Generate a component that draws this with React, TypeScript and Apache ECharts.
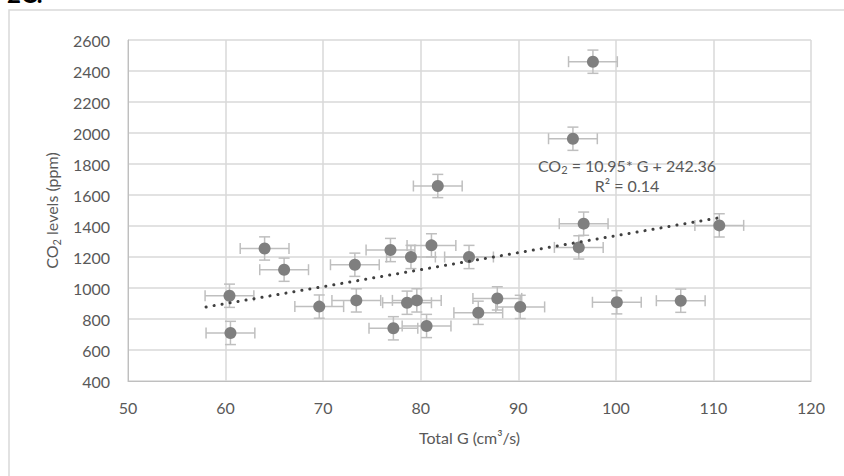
import React, { useEffect, useRef } from "react";
import * as echarts from "echarts";

// Data
const G_VALUES = [60.4, 60.5, 64.0, 66.0, 69.6, 73.25, 73.4, 76.9, 77.2, 78.6, 79.0, 79.6, 80.6, 81.1, 81.75, 84.95, 85.9, 87.85, 90.2, 95.6, 96.2, 96.7, 97.65, 100.1, 106.65, 110.6];
const CO2_VALUES = [950, 710, 1255, 1118, 880, 1150, 920, 1245, 740, 905, 1200, 920, 755, 1275, 1658, 1200, 840, 933, 878, 1963, 1262, 1415, 2460, 908, 918, 1404];
const G_ERROR = 2.5;
const CO2_ERROR = 75;
const TREND_SLOPE = 10.95;
const TREND_INTERCEPT = 242.36;
const TREND_X = [58.0, 110.6];
const X_TICKS = { min: 50, max: 120, interval: 10 };
const Y_TICKS = { min: 400, max: 2600, interval: 200 };

const FONT = "Lato";
const TEXT_COLOR = "#595959";

export default function App() {
  const ref = useRef<HTMLDivElement>(null);

  useEffect(() => {
    document.body.style.margin = "0";
    if (!ref.current) return;
    const chart = echarts.init(ref.current, undefined, { renderer: "svg" });

    const points = G_VALUES.map((g, i) => [g, CO2_VALUES[i]]);
    const errData = G_VALUES.map((g, i) => [g, CO2_VALUES[i], G_ERROR, CO2_ERROR]);
    const trend = TREND_X.map((x) => [x, TREND_SLOPE * x + TREND_INTERCEPT]);

    const option: any = {
      animation: false,
      textStyle: { fontFamily: FONT },
      grid: { left: 128, right: 33, top: 40, bottom: 95 },
      xAxis: {
        type: "value",
        min: X_TICKS.min,
        max: X_TICKS.max,
        interval: X_TICKS.interval,
        name: "Total G (cm³/s)",
        nameLocation: "middle",
        nameGap: 48,
        nameTextStyle: { fontFamily: FONT, fontSize: 16, color: TEXT_COLOR },
        axisLine: { show: true, lineStyle: { color: "#bfbfbf", width: 1 } },
        axisTick: { show: false },
        axisLabel: { fontFamily: FONT, fontSize: 16, color: TEXT_COLOR, margin: 18, formatter: (v: number) => String(v) },
        splitLine: { show: true, lineStyle: { color: "#d9d9d9", width: 1.5 } },
      },
      yAxis: {
        type: "value",
        min: Y_TICKS.min,
        max: Y_TICKS.max,
        interval: Y_TICKS.interval,
        name: "{a|CO}{s|2}{a| levels (ppm)}",
        nameLocation: "middle",
        nameGap: 60,
        nameRotate: 90,
        nameTextStyle: {
          rich: {
            a: { fontFamily: FONT, fontSize: 16, color: TEXT_COLOR, lineHeight: 20 },
            s: { fontFamily: FONT, fontSize: 11, color: TEXT_COLOR, lineHeight: 11, verticalAlign: "bottom" },
          },
        },
        axisLine: { show: true, lineStyle: { color: "#bfbfbf", width: 1 } },
        axisTick: { show: false },
        axisLabel: { fontFamily: FONT, fontSize: 16, color: TEXT_COLOR, margin: 18, formatter: (v: number) => String(v) },
        splitLine: { show: true, lineStyle: { color: "#d9d9d9", width: 1.5 } },
      },
      series: [
        {
          type: "custom",
          data: errData,
          z: 2,
          renderItem: (_params: any, api: any) => {
            const x = api.value(0);
            const y = api.value(1);
            const xe = api.value(2);
            const ye = api.value(3);
            const l = api.coord([x - xe, y]);
            const r = api.coord([x + xe, y]);
            const t = api.coord([x, y + ye]);
            const b = api.coord([x, y - ye]);
            const cap = 5.5;
            const style = { stroke: "#bfbfbf", lineWidth: 1.5, fill: "none" };
            return {
              type: "group",
              children: [
                { type: "line", shape: { x1: l[0], y1: l[1], x2: r[0], y2: r[1] }, style },
                { type: "line", shape: { x1: l[0], y1: l[1] - cap, x2: l[0], y2: l[1] + cap }, style },
                { type: "line", shape: { x1: r[0], y1: r[1] - cap, x2: r[0], y2: r[1] + cap }, style },
                { type: "line", shape: { x1: t[0], y1: t[1], x2: b[0], y2: b[1] }, style },
                { type: "line", shape: { x1: t[0] - cap, y1: t[1], x2: t[0] + cap, y2: t[1] }, style },
                { type: "line", shape: { x1: b[0] - cap, y1: b[1], x2: b[0] + cap, y2: b[1] }, style },
              ],
            };
          },
        },
        {
          type: "scatter",
          data: points,
          symbol: "circle",
          symbolSize: 12,
          z: 3,
          itemStyle: { color: "#7f7f7f", opacity: 1 },
        },
        {
          type: "line",
          data: trend,
          showSymbol: false,
          symbol: "none",
          z: 4,
          lineStyle: { color: "#404040", width: 3, type: [0.1, 8], cap: "round" },
        },
      ],
      graphic: [
        {
          type: "rect",
          silent: true,
          shape: { x: 9, y: 10, width: 900, height: 600 },
          style: { fill: "none", stroke: "#d9d9d9", lineWidth: 1.5 },
        },
        {
          type: "text",
          x: 7,
          y: -19,
          style: { text: "2C.", font: `bold 24px ${FONT}`, fill: "#000", textVerticalAlign: "top" },
        },
        {
          type: "text",
          x: 627,
          y: 165,
          style: {
            text: "{a|CO}{s|2}{a| = 10.95* G + 242.36}",
            textAlign: "center",
            textVerticalAlign: "middle",
            rich: {
              a: { fontFamily: FONT, fontSize: 16, fill: TEXT_COLOR, lineHeight: 20 },
              s: { fontFamily: FONT, fontSize: 11, fill: TEXT_COLOR, lineHeight: 11, verticalAlign: "bottom" },
            },
          },
          z: 10,
        },
        {
          type: "text",
          x: 627,
          y: 185,
          style: {
            text: "R² = 0.14",
            font: `16px ${FONT}`,
            fill: TEXT_COLOR,
            textAlign: "center",
            textVerticalAlign: "middle",
          },
          z: 10,
        },
      ],
    };

    chart.setOption(option);
    return () => chart.dispose();
  }, []);

  return <div ref={ref} style={{ width: 844, height: 476 }} />;
}
